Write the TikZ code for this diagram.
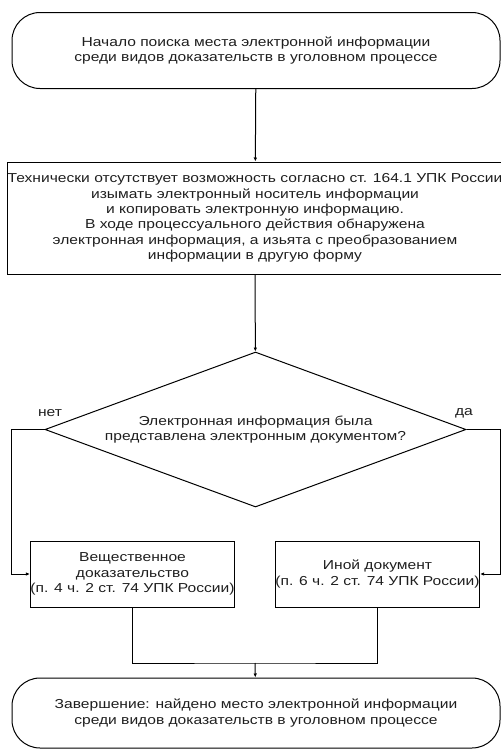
\documentclass[tikz,border=0pt]{standalone}
\usepackage{fontspec}
\setmainfont{Liberation Sans}[FakeStretch=1.2]
\usepackage{tikz}
\usetikzlibrary{shapes.geometric, arrows.meta}
\definecolor{ink}{RGB}{30,30,30}

\begin{document}
\begin{tikzpicture}[x=1pt, y=-1pt, every node/.style={inner sep=0pt},
  txt/.style={font=\fontsize{13}{15.3}\selectfont, text=ink, align=center},
  term/.style={txt, draw, line width=1pt, rounded corners=28pt,
    minimum width=488pt, minimum height=76pt},
  proc/.style={txt, draw, line width=1pt, minimum height=66pt},
  decide/.style={txt, draw, line width=1pt, diamond, aspect=2.7,
    minimum width=421pt, minimum height=155pt},
  lbl/.style={txt},
  line/.style={line width=1pt},
  arrow/.style={line, -{Latex[length=4pt, width=3.5pt]}}]
\useasboundingbox (0,0) rectangle (501,753);

\node[term] (start) at (256,50.5)
  {Начало поиска места электронной информации\\
   среди видов доказательств в уголовном процессе};
\node[proc, minimum width=490pt, minimum height=112pt] (check) at (255,218)
  {Технически отсутствует возможность согласно ст. 164.1 УПК России\\
   изымать электронный носитель информации\\
   и копировать электронную информацию.\\
   В ходе процессуального действия обнаружена\\
   электронная информация, а изьята с преобразованием\\
   информации в другую форму};
\node[decide] (dec) at (255.5,429.5)
  {Электронная информация была\\
   представлена электронным документом?};
\node[proc, minimum width=201pt] (phys) at (132.5,574)
  {Вещественное\\ доказательство\\ (п. 4 ч. 2 ст. 74 УПК России)};
\node[proc, minimum width=201pt] (doc) at (377.5,574)
  {Иной документ\\ (п. 6 ч. 2 ст. 74 УПК России)};
\node[term, minimum height=70pt] (finish) at (256,713)
  {Завершение: найдено место электронной информации\\
   среди видов доказательств в уголовном процессе};

\node[lbl] (no) at (50,413) {нет};
\node[lbl] (yes) at (464,413) {да};

\coordinate (join) at (255,663);

\draw[arrow] (start) -- (check);
\draw[arrow] (check) -- (dec);
\draw[arrow] (dec.west) -- ++(-33,0) |- (phys.west);
\draw[arrow] (dec.east) -- ++(34,0) |- (doc.east);
\draw[line] (phys.south) |- (join) -| (doc.south);
\draw[arrow] (join) -- (finish);
\end{tikzpicture}
\end{document}
